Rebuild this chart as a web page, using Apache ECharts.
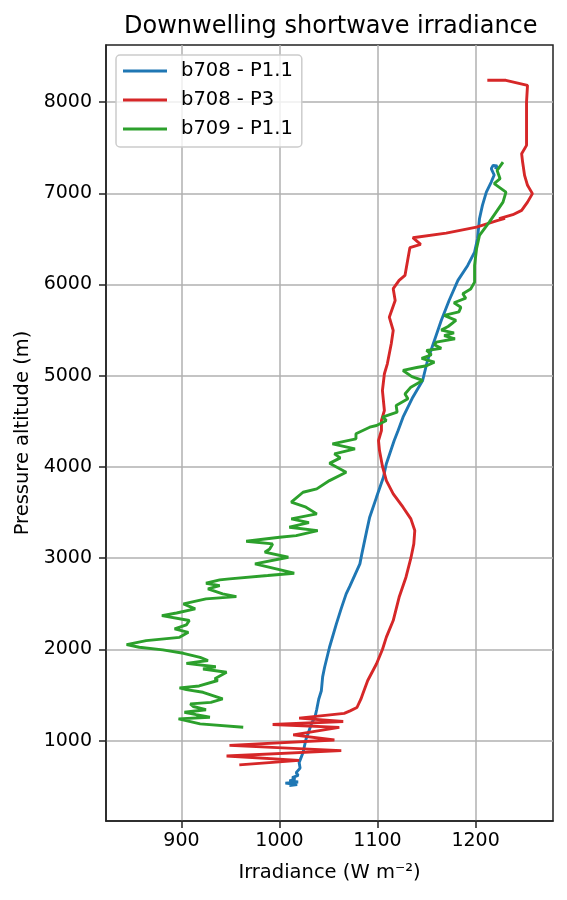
<!DOCTYPE html>
<html><head><meta charset="utf-8">
<script src="https://cdn.jsdelivr.net/npm/echarts@6/dist/echarts.min.js"></script>
<style>html,body{margin:0;padding:0;background:#fff}#c{width:567px;height:900px}</style>
</head><body><div id="c"></div>
<script>
const chartTitle = 'Downwelling shortwave irradiance';
const seriesNames = ['b708 - P1.1', 'b708 - P3', 'b709 - P1.1'];
const seriesColors = ['#1f77b4', '#d62728', '#2ca02c'];
const xTicks = [900, 1000, 1100, 1200];
const yTicks = [1000, 2000, 3000, 4000, 5000, 6000, 7000, 8000];

// b708 - P1.1 (irradiance, altitude)
const b708P11Irr = [1010, 1018, 1006, 1019, 1010, 1016, 1013, 1019, 1017, 1018, 1021, 1020, 1024, 1027, 1029, 1033, 1036, 1038, 1040, 1042.7, 1044, 1046, 1051, 1058, 1063, 1068, 1072, 1082, 1084, 1089, 1092, 1099, 1106, 1109, 1117, 1121, 1126, 1136, 1146, 1151, 1158, 1165, 1173, 1182, 1192, 1199, 1202, 1204, 1207, 1211, 1216, 1219, 1216, 1218, 1222, 1220];
const b708P11Alt = [507, 520, 535, 548, 560, 575, 595, 620, 650, 668, 700, 760, 870, 1016, 1073, 1199, 1250, 1345, 1455, 1548, 1700, 1805, 2024, 2280, 2450, 2609, 2700, 2938, 3048, 3303, 3450, 3670, 3888, 4035, 4290, 4400, 4546, 4765, 4948, 5167, 5387, 5606, 5825, 6045, 6209, 6355, 6502, 6721, 6867, 7013, 7123, 7200, 7270, 7306, 7300, 7265];

// b708 - P3
const b708P3Irr = [959, 1020, 946, 1063, 949, 1056, 1014, 1061, 993, 1065, 1020, 1066, 1072, 1079, 1083, 1085, 1090, 1099, 1105, 1109, 1116, 1122, 1129, 1134, 1137, 1138, 1134, 1126, 1116, 1109, 1105, 1102, 1101, 1104, 1104, 1107, 1105, 1107, 1110, 1114, 1116, 1112, 1118, 1116, 1122, 1128, 1131, 1133, 1144, 1136, 1170, 1201, 1222, 1230, 1224, 1238, 1247, 1253, 1258, 1253, 1250, 1248, 1247, 1252, 1252, 1252, 1253, 1231, 1212];
const b708P3Alt = [735, 785, 833, 891, 949, 1008, 1064, 1146, 1178, 1210, 1247, 1300, 1327, 1364, 1455, 1514, 1660, 1843, 2000, 2135, 2317, 2572, 2792, 3000, 3157, 3303, 3431, 3559, 3706, 3851, 4008, 4180, 4290, 4400, 4510, 4619, 4838, 5022, 5131, 5350, 5496, 5642, 5825, 5954, 6045, 6100, 6283, 6403, 6440, 6513, 6563, 6629, 6700, 6725, 6721, 6765, 6812, 6903, 6996, 7087, 7196, 7342, 7434, 7525, 7745, 8000, 8183, 8238, 8238];

// b709 - P1.1
const b709P11Irr = [963, 919, 897, 929, 915, 903, 925, 912, 909, 930, 942, 922, 905, 898, 918, 937, 934, 946, 922, 935, 905, 927, 919, 902, 881, 857, 844, 864, 898, 907, 893, 905, 908, 880, 895, 914, 902, 925, 956, 942, 927, 939, 925, 939, 949, 988, 1015, 975, 1009, 985, 990, 993, 966, 1000, 1017, 1039, 1010, 1030, 1012, 1038, 1027, 1012, 1024, 1038, 1051, 1068, 1051, 1062, 1056, 1077, 1054, 1078, 1078, 1092, 1099, 1109, 1105, 1120, 1119, 1131, 1128, 1134, 1146, 1135, 1126, 1140, 1150, 1158, 1145, 1155, 1150, 1165, 1158, 1160, 1179, 1168, 1178, 1165, 1172, 1180, 1168, 1183, 1185, 1178, 1190, 1187, 1195, 1199, 1199, 1201, 1204, 1214, 1221, 1228, 1231, 1219, 1225, 1222, 1228];
const b709P11Alt = [1148, 1184, 1239, 1257, 1285, 1312, 1340, 1375, 1404, 1420, 1458, 1531, 1560, 1579, 1600, 1660, 1678, 1750, 1786, 1810, 1848, 1879, 1914, 1958, 1995, 2024, 2053, 2097, 2133, 2188, 2225, 2270, 2317, 2371, 2400, 2445, 2500, 2555, 2579, 2609, 2664, 2700, 2726, 2763, 2774, 2810, 2836, 2938, 3011, 3066, 3102, 3157, 3186, 3230, 3248, 3303, 3340, 3390, 3431, 3486, 3559, 3614, 3723, 3760, 3851, 3942, 4040, 4100, 4144, 4199, 4254, 4309, 4364, 4436, 4455, 4510, 4546, 4600, 4674, 4747, 4800, 4875, 4948, 4990, 5058, 5090, 5110, 5149, 5190, 5230, 5277, 5300, 5340, 5368, 5405, 5440, 5470, 5500, 5540, 5606, 5661, 5700, 5750, 5800, 5850, 5899, 5950, 6026, 6209, 6392, 6538, 6684, 6794, 6903, 7013, 7105, 7160, 7250, 7342];

function pairs(xs, ys) { return xs.map((x, i) => [x, ys[i]]); }
const seriesData = [pairs(b708P11Irr, b708P11Alt), pairs(b708P3Irr, b708P3Alt), pairs(b709P11Irr, b709P11Alt)];

const FONT = 'DejaVu Sans';
const plainNum = v => String(Math.round(v));
const axisCommon = {
  axisLine: { show: true, onZero: false, lineStyle: { color: '#222', width: 1.5 } },
  splitLine: { show: true, lineStyle: { color: '#b0b0b0', width: 1.5 } }
};

const chart = echarts.init(document.getElementById('c'), null, { renderer: 'canvas' });
chart.setOption({
  animation: false,
  backgroundColor: '#fff',
  textStyle: { fontFamily: FONT },
  title: {
    text: chartTitle, left: 124, top: 15, padding: 0,
    textStyle: { fontSize: 24, fontWeight: 'normal', color: '#000', fontFamily: FONT }
  },
  legend: {
    data: seriesNames, orient: 'vertical', left: 116, top: 55,
    padding: [6, 9, 8, 7], itemWidth: 44, itemHeight: 3, itemGap: 9, icon: 'rect',
    backgroundColor: 'rgba(255,255,255,0.8)', borderColor: '#cccccc', borderWidth: 1.5, borderRadius: 4,
    textStyle: { fontSize: 19.5, color: '#000', lineHeight: 20, padding: [0, 0, 0, 9], fontFamily: FONT }
  },
  grid: { left: 106, right: 14, top: 45, bottom: 79, show: true, borderColor: '#222', borderWidth: 1.5, outerBoundsMode: 'none' },
  xAxis: Object.assign({
    type: 'value', min: 823, max: 1279,
    name: 'Irradiance (W m\u207B\u00B2)', nameLocation: 'middle', nameGap: 42,
    nameTextStyle: { fontSize: 19.5, color: '#000', fontFamily: FONT },
    axisTick: { show: true, length: 7, inside: false, customValues: xTicks, lineStyle: { color: '#222', width: 1.5 } },
    axisLabel: { customValues: xTicks, formatter: plainNum, margin: 11, fontSize: 19, color: '#000', fontFamily: FONT }
  }, axisCommon),
  yAxis: Object.assign({
    type: 'value', min: 120, max: 8625,
    name: 'Pressure altitude (m)', nameLocation: 'middle', nameGap: 71,
    nameTextStyle: { fontSize: 19.5, color: '#000', fontFamily: FONT },
    axisTick: { show: true, length: 7, inside: false, customValues: yTicks, lineStyle: { color: '#222', width: 1.5 } },
    axisLabel: { customValues: yTicks, formatter: plainNum, margin: 14, fontSize: 19, color: '#000', fontFamily: FONT }
  }, axisCommon),
  series: seriesNames.map((name, i) => ({
    name: name, type: 'line', data: seriesData[i], symbol: 'none', showSymbol: false,
    lineStyle: { width: 2.9, color: seriesColors[i] }, itemStyle: { color: seriesColors[i] },
    emphasis: { disabled: true }, silent: true
  }))
});
</script></body></html>
